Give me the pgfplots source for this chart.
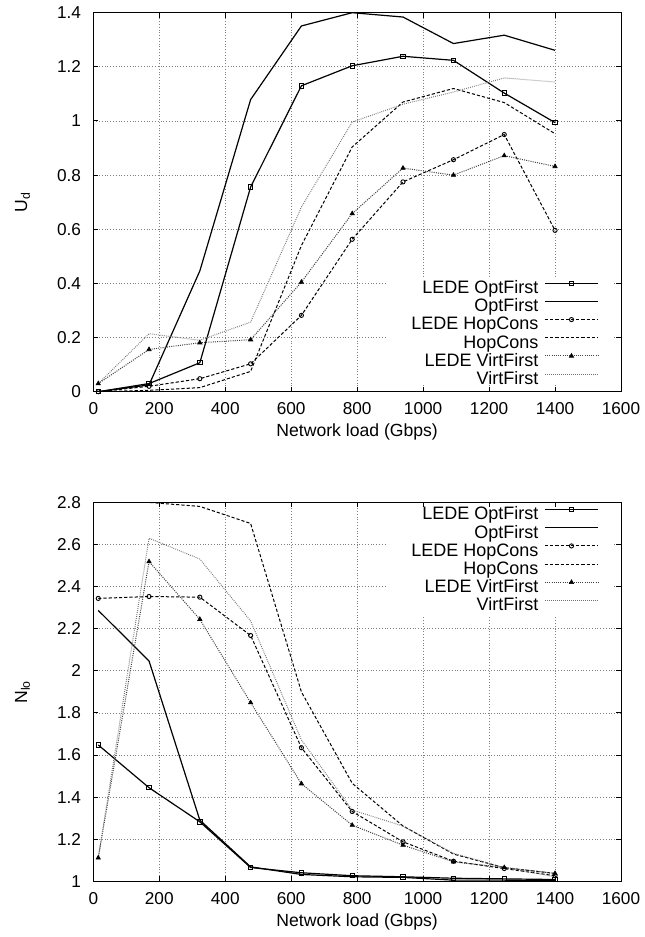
\documentclass[border=0pt]{standalone}
\usepackage{fontspec}
\setmainfont{Liberation Sans}
\usepackage{pgfplots}
\pgfplotsset{compat=1.18}
\pgfplotsset{
 gnu/.style={
  scale only axis, width=263.85pt, height=189.5pt,
  xmin=0, xmax=1600, xtick={0,200,...,1600},
  tick align=inside, xtick pos=both, ytick pos=both,
  major tick length=2.5pt,
  grid=major, major grid style={densely dotted, gray, line width=0.4pt},
  axis line style={line width=0.5pt},
  every tick/.style={black, line width=0.5pt},
  tick label style={font=\fontsize{8.6}{10}\selectfont},
  /pgf/number format/assume math mode=true,
  /pgf/number format/1000 sep={},
  scaled ticks=false,
  label style={font=\fontsize{8.8}{10}\selectfont},
  xlabel={Network load (Gbps)},
  xlabel style={at={(axis description cs:0.5,-0.1071)}, anchor=center},
  ylabel style={at={(axis description cs:-0.1342,0.5)}, anchor=center},
  xticklabel style={yshift=-2pt},
  yticklabel style={xshift=-2.6pt},
  legend style={draw=none, fill=none, font=\fontsize{9}{10}\selectfont,
    legend cell align=right, legend plot pos=right, inner sep=0pt,
    row sep=0pt, column sep=3pt,
    nodes={inner sep=0pt, text height=6.5pt, text depth=2.6pt}},
  legend image code/.code={\draw[yshift=3.2pt, mark repeat=2,mark phase=2] plot coordinates {(0pt,0pt) (13.25pt,0pt) (26.5pt,0pt)};},
 },
 s1/.style={black, line width=0.6pt, mark=square, mark size=1.1pt, mark options={solid, line width=0.45pt}},
 s2/.style={black, line width=0.6pt, mark=none},
 s3/.style={black, line width=0.5pt, dash pattern=on 1.6pt off 1pt, mark=o, mark size=1.05pt, mark options={solid, line width=0.45pt}},
 s4/.style={black, line width=0.5pt, dash pattern=on 1.6pt off 1pt, mark=none},
 s5/.style={black!75, line width=0.5pt, dash pattern=on 0.5pt off 0.6pt, mark=triangle*, mark size=1.25pt, mark options={solid, fill=black, draw=black, line width=0.3pt}},
 s6/.style={black!55, line width=0.5pt, dash pattern=on 0.4pt off 0.6pt, mark=none},
}
\begin{document}
\begin{tikzpicture}
\useasboundingbox (-46.65pt,-272.65pt) rectangle (275.35pt,195.85pt);
\begin{axis}[gnu, at={(0,0)}, anchor=south west,
  ymin=0, ymax=1.4, ytick={0,0.2,...,1.4},
  ylabel={U\textsubscript{d}},
  legend style={at={(0.9583,0.2945)}, anchor=north east}]
\fill[white] (axis cs:888,0.024) rectangle (axis cs:1580,0.424);
\addplot[s1] coordinates {(15,0.0) (169,0.03) (323,0.107) (477,0.756) (631,1.13) (785,1.204) (939,1.239) (1092,1.224) (1246,1.103) (1400,0.994)};
\addlegendentry{LEDE OptFirst}
\addplot[s2] coordinates {(15,0.0) (169,0.025) (323,0.446) (477,1.079) (631,1.351) (785,1.40) (939,1.384) (1092,1.286) (1246,1.317) (1400,1.261)};
\addlegendentry{OptFirst}
\addplot[s3] coordinates {(15,0.0) (169,0.02) (323,0.048) (477,0.103) (631,0.282) (785,0.563) (939,0.775) (1092,0.857) (1246,0.95) (1400,0.596)};
\addlegendentry{LEDE HopCons}
\addplot[s4] coordinates {(15,0.0) (169,0.005) (323,0.015) (477,0.075) (631,0.54) (785,0.904) (939,1.07) (1092,1.12) (1246,1.068) (1400,0.953)};
\addlegendentry{HopCons}
\addplot[s5] coordinates {(15,0.03) (169,0.156) (323,0.181) (477,0.192) (631,0.405) (785,0.658) (939,0.826) (1092,0.80) (1246,0.872) (1400,0.832)};
\addlegendentry{LEDE VirtFirst}
\addplot[s6] coordinates {(15,0.03) (169,0.214) (323,0.19) (477,0.257) (631,0.682) (785,0.996) (939,1.062) (1092,1.107) (1246,1.159) (1400,1.144)};
\addlegendentry{VirtFirst}
\end{axis}
\begin{axis}[gnu, at={(0,-244.85pt)}, anchor=south west,
  ymin=1, ymax=2.8, ytick={1,1.2,...,2.8},
  ylabel={N\textsubscript{lo}},
  legend style={at={(0.9583,0.9894)}, anchor=north east}]
\fill[white] (axis cs:888,2.255) rectangle (axis cs:1580,2.776);
\addplot[s1] coordinates {(15,1.648) (169,1.445) (323,1.283) (477,1.066) (631,1.041) (785,1.027) (939,1.022) (1092,1.015) (1246,1.012) (1400,1.009)};
\addlegendentry{LEDE OptFirst}
\addplot[s2] coordinates {(15,2.287) (169,2.047) (323,1.291) (477,1.069) (631,1.033) (785,1.022) (939,1.019) (1092,1.006) (1246,1.006) (1400,1.003)};
\addlegendentry{OptFirst}
\addplot[s3] coordinates {(15,2.344) (169,2.353) (323,2.35) (477,2.168) (631,1.635) (785,1.332) (939,1.188) (1092,1.096) (1246,1.061) (1400,1.027)};
\addlegendentry{LEDE HopCons}
\addplot[s4] coordinates {(15,2.80) (169,2.80) (323,2.781) (477,2.70) (631,1.90) (785,1.466) (939,1.263) (1092,1.13) (1246,1.065) (1400,1.038)};
\addlegendentry{HopCons}
\addplot[s5] coordinates {(15,1.112) (169,2.519) (323,2.245) (477,1.849) (631,1.464) (785,1.267) (939,1.172) (1092,1.093) (1246,1.066) (1400,1.038)};
\addlegendentry{LEDE VirtFirst}
\addplot[s6] coordinates {(15,1.112) (169,2.63) (323,2.531) (477,2.237) (631,1.672) (785,1.339) (939,1.263) (1092,1.133) (1246,1.066) (1400,1.022)};
\addlegendentry{VirtFirst}
\end{axis}
\end{tikzpicture}
\end{document}
